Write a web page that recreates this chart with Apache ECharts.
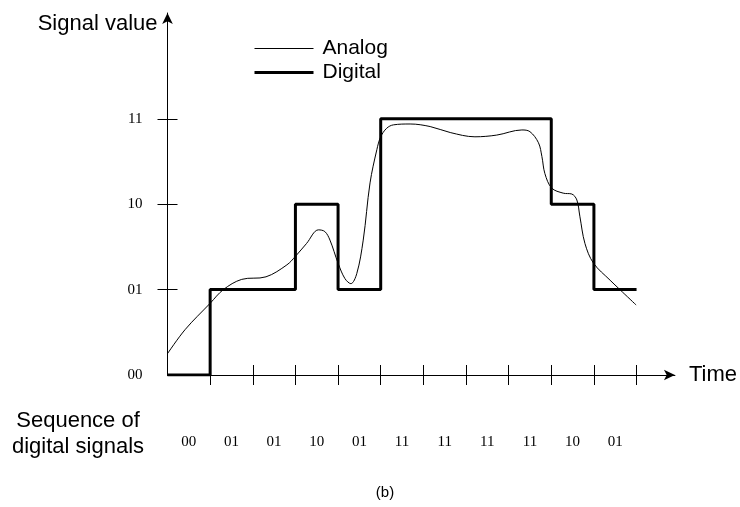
<!DOCTYPE html>
<html>
<head>
<meta charset="utf-8">
<script src="https://cdn.jsdelivr.net/npm/echarts@6/dist/echarts.min.js"></script>
<style>
html,body{margin:0;padding:0;background:#fff;}
#chart{width:740px;height:507px;}
</style>
</head>
<body>
<div id="chart"></div>
<script>
// Level codes used as y-axis tick labels (value 0..3)
const levelCodes = ['00', '01', '10', '11'];
// Sequence of digital signals, one per time slot
const sequence = ['00', '01', '01', '10', '01', '11', '11', '11', '11', '10', '01'];
// Analog signal samples (time, level)
const analogTime = [0, 0.41, 1.0, 1.31, 1.74, 2.31, 2.80, 3.0, 3.26, 3.54, 3.69, 3.81, 4.0, 4.16, 4.30, 4.44, 4.59, 4.75, 4.91, 5.0, 5.14, 5.30, 5.69, 6.16, 6.63, 7.21, 7.72, 8.31, 8.50, 8.70, 8.78, 8.85, 9.01, 9.28, 9.48, 9.60, 9.67, 9.79, 9.99, 10.38, 10.61, 10.99];
const analogValue = [0.25, 0.53, 0.84, 1.0, 1.12, 1.15, 1.29, 1.39, 1.54, 1.70, 1.68, 1.58, 1.31, 1.13, 1.07, 1.19, 1.58, 2.25, 2.64, 2.79, 2.89, 2.93, 2.94, 2.91, 2.84, 2.79, 2.81, 2.87, 2.85, 2.72, 2.56, 2.36, 2.19, 2.13, 2.12, 2.05, 1.86, 1.54, 1.31, 1.11, 1.0, 0.82];

const slotTicks = sequence.map((_, i) => i + 1);
const slotCenters = sequence.map((_, i) => i + 0.5);
const digitalData = sequence.map((c, i) => [i, parseInt(c, 2)]);
digitalData.push([sequence.length, parseInt(sequence[sequence.length - 1], 2)]);
const analogData = analogTime.map((t, i) => [t, analogValue[i]]);

const SANS = 'Liberation Sans, Arial, sans-serif';
const SERIF = 'Liberation Serif, Times New Roman, serif';
const hiddenSymbol = {color: 'rgba(0,0,0,0)', borderWidth: 0, opacity: 0};

const chart = echarts.init(document.getElementById('chart'), null, {renderer: 'canvas'});
chart.setOption({
  animation: false,
  backgroundColor: '#fff',
  grid: {left: 167.5, top: 13, right: 65, bottom: 132, containLabel: false},
  legend: {
    orient: 'vertical', left: 253, top: 38, padding: 0,
    itemWidth: 59, itemHeight: 14, itemGap: 3,
    textStyle: {fontFamily: SANS, fontSize: 21, color: '#000', lineHeight: 20, padding: [0, 0, 0, 4]},
    data: [
      {name: 'Analog', itemStyle: hiddenSymbol, lineStyle: {color: '#000', width: 1}},
      {name: 'Digital', itemStyle: hiddenSymbol, lineStyle: {color: '#000', width: 3}}
    ]
  },
  xAxis: [
    {
      type: 'value', min: 0, max: 11.9, position: 'bottom',
      axisLine: {show: true, symbol: ['none', 'arrow'], symbolSize: [8, 11], lineStyle: {color: '#000', width: 1}},
      axisTick: {show: true, customValues: slotTicks, length: 10, lineStyle: {color: '#000', width: 1}},
      axisLabel: {show: false},
      splitLine: {show: false},
      name: 'Time', nameLocation: 'end', nameGap: 14,
      nameTextStyle: {fontFamily: SANS, fontSize: 22, color: '#000', verticalAlign: 'middle'}
    },
    {
      type: 'value', min: 0, max: 11.9, position: 'bottom',
      axisLine: {show: false},
      axisTick: {show: true, inside: true, customValues: slotTicks, length: 10, lineStyle: {color: '#000', width: 1}},
      axisLabel: {
        show: true, customValues: slotCenters, margin: 60,
        fontFamily: SERIF, fontSize: 15, color: '#000',
        formatter: v => sequence[Math.floor(v)]
      },
      splitLine: {show: false}
    }
  ],
  yAxis: [
    {
      type: 'value', min: 0, max: 4.24, position: 'left',
      axisLine: {show: true, symbol: ['none', 'arrow'], symbolSize: [8, 11], lineStyle: {color: '#000', width: 1}},
      axisTick: {show: true, customValues: [1, 2, 3], length: 10, lineStyle: {color: '#000', width: 1}},
      axisLabel: {
        show: true, customValues: [0, 1, 2, 3], margin: 25,
        fontFamily: SERIF, fontSize: 15, color: '#000',
        formatter: v => levelCodes[Math.round(v)]
      },
      splitLine: {show: false},
      name: 'Signal value', nameLocation: 'end', nameGap: -11,
      nameTextStyle: {fontFamily: SANS, fontSize: 22, color: '#000', align: 'right', verticalAlign: 'middle', padding: [0, 10, 0, 0]}
    },
    {
      type: 'value', min: 0, max: 4.24, position: 'left',
      axisLine: {show: false},
      axisTick: {show: true, inside: true, customValues: [1, 2, 3], length: 10, lineStyle: {color: '#000', width: 1}},
      axisLabel: {show: false},
      splitLine: {show: false}
    }
  ],
  graphic: [
    {
      type: 'text', left: 82 - 70, top: 408,
      style: {text: 'Sequence of\ndigital signals', x: 70, textAlign: 'center', font: '22px ' + SANS, lineHeight: 26, fill: '#000'}
    },
    {
      type: 'text', x: 385, y: 493,
      style: {text: '(b)', textAlign: 'center', textVerticalAlign: 'middle', font: '15px ' + SANS, fill: '#000'}
    }
  ],
  series: [
    {
      name: 'Analog', type: 'line', data: analogData, smooth: 0.35,
      symbol: 'none', showSymbol: false,
      lineStyle: {color: '#000', width: 1}, itemStyle: {color: '#000'}, z: 3
    },
    {
      name: 'Digital', type: 'line', data: digitalData, step: 'end',
      symbol: 'none', showSymbol: false,
      lineStyle: {color: '#000', width: 3}, itemStyle: {color: '#000'}, z: 2
    }
  ]
});
</script>
</body>
</html>
